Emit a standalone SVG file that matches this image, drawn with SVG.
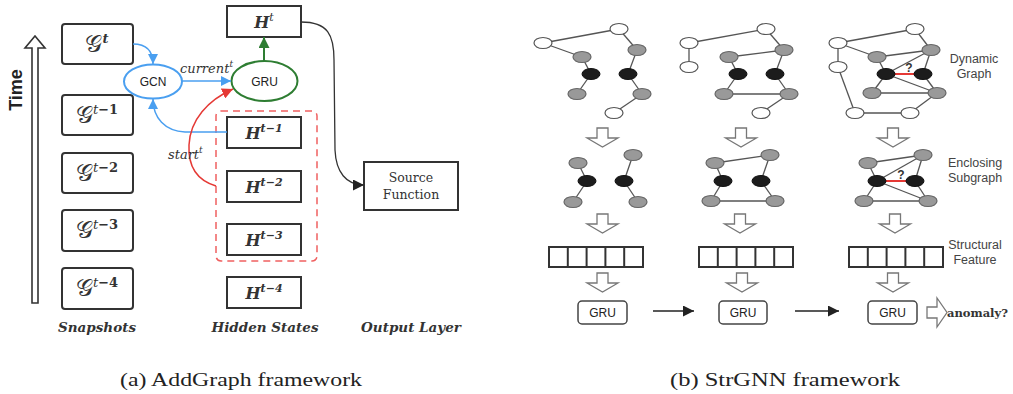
<svg xmlns="http://www.w3.org/2000/svg" width="1013" height="394" viewBox="0 0 1013 394">
  <style>
    .box { fill: #fff; stroke: #333; stroke-width: 2; }
    .snap { fill: #fff; stroke: #333; stroke-width: 2; }
    .g { font-family: "DejaVu Serif", "Liberation Serif", serif; font-size: 24px; fill: #333; }
    .sup { font-size: 13px; font-weight: bold; }
    .h { font-family: "DejaVu Serif", serif; font-style: italic; font-weight: bold; font-size: 16px; fill: #333; }
    .hsup { font-size: 11px; }
    .lbl { font-family: "DejaVu Serif", serif; font-style: italic; font-weight: bold; font-size: 13.5px; fill: #333; text-anchor: middle; }
    .edgelbl { font-family: "DejaVu Serif", serif; font-style: italic; font-size: 13px; fill: #333; }
    .sans { font-family: "Liberation Sans", Arial, sans-serif; font-size: 12px; fill: #222; text-anchor: middle; }
    .side { font-family: "Liberation Sans", Arial, sans-serif; font-size: 12.5px; fill: #444; text-anchor: middle; }
    .cap { font-family: "Liberation Serif", serif; font-size: 19px; fill: #222; }
    .e { stroke: #555; stroke-width: 1.3; fill: none; }
    .q { stroke: #e53935; stroke-width: 2; }
    .qm { font-family: "Liberation Sans", Arial, sans-serif; font-size: 12px; font-weight: bold; fill: #333; text-anchor: middle; }
    .nw { fill: #fff; stroke: #555; stroke-width: 1.2; }
    .ng { fill: #999; stroke: #666; stroke-width: 1.2; }
    .nb { fill: #1c1c1c; stroke: #111; stroke-width: 1; }
    .hollow { fill: #fff; stroke: #777; stroke-width: 1.3; }
    .vec { fill: #fff; stroke: #333; stroke-width: 2; }
    .gru2 { fill: #fff; stroke: #444; stroke-width: 1.5; }
  </style>
  <defs>
    <marker id="ahBlue" viewBox="0 0 10 10" refX="10" refY="5" markerWidth="10" markerHeight="10" markerUnits="userSpaceOnUse" orient="auto">
      <path d="M0,0 L10,5 L0,10 z" fill="#4a9ff0"/>
    </marker>
    <marker id="ahGreen" viewBox="0 0 10 10" refX="10" refY="5" markerWidth="11" markerHeight="11" markerUnits="userSpaceOnUse" orient="auto">
      <path d="M0,0 L10,5 L0,10 z" fill="#2e7d32"/>
    </marker>
    <marker id="ahRed" viewBox="0 0 10 10" refX="10" refY="5" markerWidth="11" markerHeight="11" markerUnits="userSpaceOnUse" orient="auto">
      <path d="M0,0 L10,5 L0,10 z" fill="#e53935"/>
    </marker>
    <marker id="ahBlack" viewBox="0 0 10 10" refX="10" refY="5" markerWidth="11" markerHeight="11" markerUnits="userSpaceOnUse" orient="auto">
      <path d="M0,0 L10,5 L0,10 z" fill="#222"/>
    </marker>
    <!-- hollow block arrow pointing down, tip at (0,19) -->
    <path id="downArrow" class="hollow" d="M-5.5,0 L5.5,0 L5.5,10 L15.5,10 L0,19 L-15.5,10 L-5.5,10 z"/>
    <!-- five-cell feature vector -->
    <g id="featVec">
      <rect class="vec" x="0" y="0" width="94" height="20"/>
      <line class="vec" x1="18.8" y1="0" x2="18.8" y2="20"/>
      <line class="vec" x1="37.6" y1="0" x2="37.6" y2="20"/>
      <line class="vec" x1="56.4" y1="0" x2="56.4" y2="20"/>
      <line class="vec" x1="75.2" y1="0" x2="75.2" y2="20"/>
    </g>
  </defs>

  <rect width="1013" height="394" fill="#fff"/>

  <!-- ===== (a) AddGraph ===== -->
  <g id="time-axis">
    <polygon points="32,303 32,48 25,48 35,36 45,48 38,48 38,303" fill="#fff" stroke="#333" stroke-width="1.6"/>
    <text transform="translate(22,90) rotate(-90)" text-anchor="middle" font-family="Liberation Sans, Arial, sans-serif" font-weight="bold" font-size="18" fill="#222">Time</text>
  </g>

  <g id="snap-t">
    <rect class="snap" x="62" y="24" width="71" height="40" rx="3"/>
    <text class="g" x="97" y="52" text-anchor="middle">𝒢<tspan class="sup" font-style="italic" font-weight="normal" dy="-9">t</tspan></text>
  </g>
  <g id="snap-t1">
    <rect class="snap" x="62" y="95" width="71" height="40" rx="3"/>
    <text class="g" x="97" y="123" text-anchor="middle">𝒢<tspan class="sup" dy="-9"><tspan font-style="italic" font-weight="normal">t</tspan>−1</tspan></text>
  </g>
  <g id="snap-t2">
    <rect class="snap" x="62" y="153" width="71" height="40" rx="3"/>
    <text class="g" x="97" y="181" text-anchor="middle">𝒢<tspan class="sup" dy="-9"><tspan font-style="italic" font-weight="normal">t</tspan>−2</tspan></text>
  </g>
  <g id="snap-t3">
    <rect class="snap" x="62" y="210" width="71" height="41" rx="3"/>
    <text class="g" x="97" y="238" text-anchor="middle">𝒢<tspan class="sup" dy="-9"><tspan font-style="italic" font-weight="normal">t</tspan>−3</tspan></text>
  </g>
  <g id="snap-t4">
    <rect class="snap" x="62" y="268" width="71" height="41" rx="3"/>
    <text class="g" x="97" y="296" text-anchor="middle">𝒢<tspan class="sup" dy="-9"><tspan font-style="italic" font-weight="normal">t</tspan>−4</tspan></text>
  </g>

  <g id="gcn">
    <ellipse cx="153" cy="81.5" rx="29" ry="17" fill="#fff" stroke="#4a9ff0" stroke-width="2"/>
    <text class="sans" x="153" y="86">GCN</text>
  </g>
  <g id="gru">
    <ellipse cx="264.5" cy="81" rx="33" ry="20" fill="#fff" stroke="#2e7d32" stroke-width="2"/>
    <text class="sans" x="264.5" y="86">GRU</text>
  </g>

  <g id="h-t">
    <rect class="box" x="227" y="6" width="74" height="31"/>
    <text class="h" x="264" y="28" text-anchor="middle">H<tspan class="hsup" font-weight="normal" dy="-7">t</tspan></text>
  </g>

  <g id="hidden-window">
    <rect x="216" y="111" width="101" height="150" rx="5" fill="none" stroke="#f06060" stroke-width="1.5" stroke-dasharray="7,5"/>
  </g>
  <g id="h-t1">
    <rect class="box" x="227" y="117" width="74" height="31"/>
    <text class="h" x="264" y="139" text-anchor="middle">H<tspan class="hsup" dy="-7">t−1</tspan></text>
  </g>
  <g id="h-t2">
    <rect class="box" x="227" y="171" width="74" height="31"/>
    <text class="h" x="264" y="193" text-anchor="middle">H<tspan class="hsup" dy="-7">t−2</tspan></text>
  </g>
  <g id="h-t3">
    <rect class="box" x="227" y="224" width="74" height="31"/>
    <text class="h" x="264" y="246" text-anchor="middle">H<tspan class="hsup" dy="-7">t−3</tspan></text>
  </g>
  <g id="h-t4">
    <rect class="box" x="227" y="277" width="74" height="31"/>
    <text class="h" x="264" y="299" text-anchor="middle">H<tspan class="hsup" dy="-7">t−4</tspan></text>
  </g>

  <g id="source-function">
    <rect class="box" x="364" y="162" width="94" height="48"/>
    <text x="411" y="182" text-anchor="middle" font-family="DejaVu Serif, serif" font-size="12.5" fill="#333">Source</text>
    <text x="411" y="199" text-anchor="middle" font-family="DejaVu Serif, serif" font-size="12.5" fill="#333">Function</text>
  </g>

  <g id="column-labels">
    <text class="lbl" x="97" y="332">Snapshots</text>
    <text class="lbl" x="265" y="332">Hidden States</text>
    <text class="lbl" x="411" y="332">Output Layer</text>
  </g>

  <g id="connectors-a">
    <path d="M133,44 C146,44 153,50 153,64" fill="none" stroke="#4a9ff0" stroke-width="1.5" marker-end="url(#ahBlue)"/>
    <path d="M182,81 L231,81" fill="none" stroke="#4a9ff0" stroke-width="1.5" marker-end="url(#ahBlue)"/>
    <path d="M227,132 L185,132 C165,131 153,118 153,99" fill="none" stroke="#4a9ff0" stroke-width="1.5" marker-end="url(#ahBlue)"/>
    <path d="M216,186 C196,180 188,165 189,145 C190,120 208,100 233,89" fill="none" stroke="#e53935" stroke-width="1.5" marker-end="url(#ahRed)"/>
    <path d="M264,61 L264,37" fill="none" stroke="#2e7d32" stroke-width="2" marker-end="url(#ahGreen)"/>
    <path d="M301,22 C328,22 334,35 334,60 L335,150 C336,172 346,185 364,185" fill="none" stroke="#333" stroke-width="1.3" marker-end="url(#ahBlack)"/>
    <text class="edgelbl" x="180" y="73">current<tspan font-size="9" dy="-6">t</tspan></text>
    <text class="edgelbl" x="168" y="159">start<tspan font-size="9" dy="-6">t</tspan></text>
  </g>

  <!-- ===== (b) StrGNN ===== -->
  <g id="dyn-graph-1">
    <line class="e" x1="543" y1="43" x2="619" y2="29"/>
    <line class="e" x1="543" y1="43" x2="582" y2="57"/>
    <line class="e" x1="582" y1="57" x2="591" y2="74"/>
    <line class="e" x1="591" y1="74" x2="577" y2="94"/>
    <line class="e" x1="619" y1="29" x2="637" y2="50"/>
    <line class="e" x1="637" y1="50" x2="628" y2="74"/>
    <line class="e" x1="628" y1="74" x2="642" y2="94"/>
    <line class="e" x1="642" y1="94" x2="614" y2="113"/>
    <ellipse class="nw" cx="543" cy="43" rx="9" ry="5.5"/>
    <ellipse class="nw" cx="619" cy="29" rx="9" ry="5.5"/>
    <ellipse class="nw" cx="614" cy="113" rx="9" ry="5.5"/>
    <ellipse class="ng" cx="582" cy="57" rx="9" ry="5.5"/>
    <ellipse class="ng" cx="637" cy="50" rx="9" ry="5.5"/>
    <ellipse class="ng" cx="577" cy="94" rx="9" ry="5.5"/>
    <ellipse class="ng" cx="642" cy="94" rx="9" ry="5.5"/>
    <ellipse class="nb" cx="591" cy="74" rx="9" ry="5.5"/>
    <ellipse class="nb" cx="628" cy="74" rx="9" ry="5.5"/>
  </g>

  <g id="dyn-graph-2">
    <line class="e" x1="689" y1="43" x2="766" y2="29"/>
    <line class="e" x1="689" y1="43" x2="689" y2="67"/>
    <line class="e" x1="766" y1="29" x2="784" y2="50"/>
    <line class="e" x1="729" y1="57" x2="784" y2="50"/>
    <line class="e" x1="729" y1="57" x2="738" y2="74"/>
    <line class="e" x1="784" y1="50" x2="775" y2="74"/>
    <line class="e" x1="738" y1="74" x2="724" y2="94"/>
    <line class="e" x1="724" y1="94" x2="789" y2="94"/>
    <line class="e" x1="775" y1="74" x2="789" y2="94"/>
    <line class="e" x1="789" y1="94" x2="761" y2="113"/>
    <ellipse class="nw" cx="689" cy="43" rx="9" ry="5.5"/>
    <ellipse class="nw" cx="689" cy="67" rx="9" ry="5.5"/>
    <ellipse class="nw" cx="766" cy="29" rx="9" ry="5.5"/>
    <ellipse class="nw" cx="761" cy="113" rx="9" ry="5.5"/>
    <ellipse class="ng" cx="729" cy="57" rx="9" ry="5.5"/>
    <ellipse class="ng" cx="784" cy="50" rx="9" ry="5.5"/>
    <ellipse class="ng" cx="724" cy="94" rx="9" ry="5.5"/>
    <ellipse class="ng" cx="789" cy="94" rx="9" ry="5.5"/>
    <ellipse class="nb" cx="738" cy="74" rx="9" ry="5.5"/>
    <ellipse class="nb" cx="775" cy="74" rx="9" ry="5.5"/>
  </g>

  <g id="dyn-graph-3">
    <line class="e" x1="838" y1="43" x2="915" y2="29"/>
    <line class="e" x1="838" y1="43" x2="838" y2="67"/>
    <line class="e" x1="838" y1="43" x2="877" y2="57"/>
    <line class="e" x1="838" y1="67" x2="855" y2="113"/>
    <line class="e" x1="855" y1="113" x2="910" y2="113"/>
    <line class="e" x1="910" y1="113" x2="937" y2="93"/>
    <line class="e" x1="915" y1="29" x2="931" y2="50"/>
    <line class="e" x1="877" y1="57" x2="931" y2="50"/>
    <line class="e" x1="877" y1="57" x2="886" y2="74"/>
    <line class="e" x1="931" y1="50" x2="886" y2="74"/>
    <line class="e" x1="931" y1="50" x2="923" y2="74"/>
    <line class="e" x1="886" y1="74" x2="872" y2="93"/>
    <line class="e" x1="886" y1="74" x2="937" y2="93"/>
    <line class="e" x1="872" y1="93" x2="937" y2="93"/>
    <line class="e" x1="923" y1="74" x2="937" y2="93"/>
    <line class="q" x1="886" y1="74" x2="923" y2="74"/>
    <ellipse class="nw" cx="838" cy="43" rx="9" ry="5.5"/>
    <ellipse class="nw" cx="838" cy="67" rx="9" ry="5.5"/>
    <ellipse class="nw" cx="915" cy="29" rx="9" ry="5.5"/>
    <ellipse class="nw" cx="855" cy="113" rx="9" ry="5.5"/>
    <ellipse class="nw" cx="910" cy="113" rx="9" ry="5.5"/>
    <ellipse class="ng" cx="877" cy="57" rx="9" ry="5.5"/>
    <ellipse class="ng" cx="931" cy="50" rx="9" ry="5.5"/>
    <ellipse class="ng" cx="872" cy="93" rx="9" ry="5.5"/>
    <ellipse class="ng" cx="937" cy="93" rx="9" ry="5.5"/>
    <ellipse class="nb" cx="886" cy="74" rx="9" ry="5.5"/>
    <ellipse class="nb" cx="923" cy="74" rx="9" ry="5.5"/>
    <text class="qm" x="909" y="72">?</text>
  </g>

  <g id="sub-graph-1">
    <line class="e" x1="578" y1="163" x2="587" y2="181"/>
    <line class="e" x1="587" y1="181" x2="573" y2="202"/>
    <line class="e" x1="633" y1="155" x2="624" y2="181"/>
    <line class="e" x1="624" y1="181" x2="638" y2="202"/>
    <ellipse class="ng" cx="578" cy="163" rx="9" ry="5.5"/>
    <ellipse class="ng" cx="633" cy="155" rx="9" ry="5.5"/>
    <ellipse class="ng" cx="573" cy="202" rx="9" ry="5.5"/>
    <ellipse class="ng" cx="638" cy="202" rx="9" ry="5.5"/>
    <ellipse class="nb" cx="587" cy="181" rx="9" ry="5.5"/>
    <ellipse class="nb" cx="624" cy="181" rx="9" ry="5.5"/>
  </g>

  <g id="sub-graph-2">
    <line class="e" x1="715" y1="163" x2="770" y2="155"/>
    <line class="e" x1="715" y1="163" x2="723" y2="181"/>
    <line class="e" x1="770" y1="155" x2="761" y2="181"/>
    <line class="e" x1="723" y1="181" x2="711" y2="201"/>
    <line class="e" x1="711" y1="201" x2="775" y2="201"/>
    <line class="e" x1="761" y1="181" x2="775" y2="201"/>
    <ellipse class="ng" cx="715" cy="163" rx="9" ry="5.5"/>
    <ellipse class="ng" cx="770" cy="155" rx="9" ry="5.5"/>
    <ellipse class="ng" cx="711" cy="201" rx="9" ry="5.5"/>
    <ellipse class="ng" cx="775" cy="201" rx="9" ry="5.5"/>
    <ellipse class="nb" cx="723" cy="181" rx="9" ry="5.5"/>
    <ellipse class="nb" cx="761" cy="181" rx="9" ry="5.5"/>
  </g>

  <g id="sub-graph-3">
    <line class="e" x1="868" y1="163" x2="923" y2="155"/>
    <line class="e" x1="868" y1="163" x2="877" y2="181"/>
    <line class="e" x1="877" y1="181" x2="923" y2="155"/>
    <line class="e" x1="923" y1="155" x2="915" y2="181"/>
    <line class="e" x1="877" y1="181" x2="864" y2="201"/>
    <line class="e" x1="877" y1="181" x2="928" y2="201"/>
    <line class="e" x1="864" y1="201" x2="928" y2="201"/>
    <line class="e" x1="915" y1="181" x2="928" y2="201"/>
    <line class="q" x1="877" y1="181" x2="915" y2="181"/>
    <ellipse class="ng" cx="868" cy="163" rx="9" ry="5.5"/>
    <ellipse class="ng" cx="923" cy="155" rx="9" ry="5.5"/>
    <ellipse class="ng" cx="864" cy="201" rx="9" ry="5.5"/>
    <ellipse class="ng" cx="928" cy="201" rx="9" ry="5.5"/>
    <ellipse class="nb" cx="877" cy="181" rx="9" ry="5.5"/>
    <ellipse class="nb" cx="915" cy="181" rx="9" ry="5.5"/>
    <text class="qm" x="901" y="179">?</text>
  </g>

  <g id="feature-vectors">
    <use href="#featVec" x="549" y="247"/>
    <use href="#featVec" x="699" y="247"/>
    <use href="#featVec" x="849" y="247"/>
  </g>

  <g id="gru-1">
    <rect class="gru2" x="578" y="301" width="49" height="23" rx="4"/>
    <text class="sans" x="602.5" y="317">GRU</text>
  </g>
  <g id="gru-2">
    <rect class="gru2" x="719" y="301" width="48" height="23" rx="4"/>
    <text class="sans" x="743" y="317">GRU</text>
  </g>
  <g id="gru-3">
    <rect class="gru2" x="868" y="301" width="49" height="23" rx="4"/>
    <text class="sans" x="892.5" y="317">GRU</text>
  </g>

  <g id="side-labels">
    <text class="side" x="974" y="63">Dynamic</text>
    <text class="side" x="974" y="78">Graph</text>
    <text class="side" x="975" y="167">Enclosing</text>
    <text class="side" x="975" y="182">Subgraph</text>
    <text class="side" x="975" y="249">Structural</text>
    <text class="side" x="975" y="264">Feature</text>
  </g>

  <g id="connectors-b">
    <use href="#downArrow" x="602.5" y="128"/>
    <use href="#downArrow" x="741" y="128"/>
    <use href="#downArrow" x="893" y="128"/>
    <use href="#downArrow" x="602.5" y="214"/>
    <use href="#downArrow" x="740" y="214"/>
    <use href="#downArrow" x="895" y="214"/>
    <use href="#downArrow" x="602.5" y="273"/>
    <use href="#downArrow" x="742" y="273"/>
    <use href="#downArrow" x="893" y="273"/>
    <path d="M653,311 L694,311" stroke="#222" stroke-width="1.6" marker-end="url(#ahBlack)"/>
    <path d="M795,311 L839,311" stroke="#222" stroke-width="1.6" marker-end="url(#ahBlack)"/>
    <polygon class="hollow" points="927,307 937,307 937,298 947,312.5 937,327 937,318 927,318"/>
    <text x="947" y="317" font-family="DejaVu Serif, serif" font-weight="bold" font-size="11.5" fill="#333">anomaly?</text>
  </g>

  <g id="captions">
    <text class="cap" x="120" y="386" textLength="242" lengthAdjust="spacingAndGlyphs">(a) AddGraph framework</text>
    <text class="cap" x="670" y="386" textLength="230" lengthAdjust="spacingAndGlyphs">(b) StrGNN framework</text>
  </g>
</svg>
